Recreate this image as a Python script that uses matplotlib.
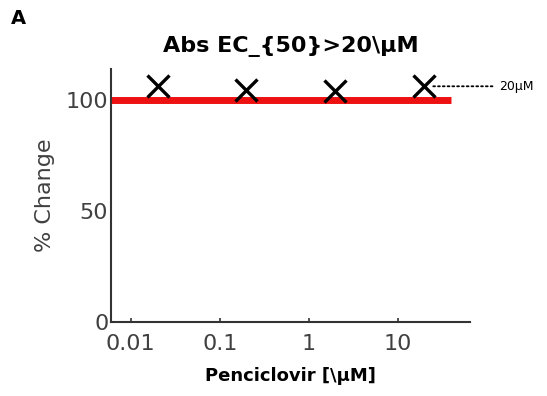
import matplotlib
matplotlib.use('Agg')
import matplotlib.pyplot as plt

conc = [0.02, 0.2, 2, 20]
pct_change = [106, 104.5, 104, 106]
line_x = [0.006, 40]
line_y = [100, 100]
xticks = [0.01, 0.1, 1, 10]
xticklabels = ['0.01', '0.1', '1', '10']
yticks = [0, 50, 100]

fig = plt.figure(figsize=(5.47, 3.96), dpi=100)
ax = fig.add_axes([0.203, 0.187, 0.657, 0.64])

ax.plot(line_x, line_y, color='#ee1111', lw=5, solid_capstyle='butt', zorder=2)
ax.plot(conc, pct_change, 'x', color='black', ms=16, mew=2.4, zorder=3)

ax.set_xscale('log')
ax.set_xlim(0.006, 66)
ax.set_ylim(0, 114)
ax.set_xticks(xticks)
ax.set_xticklabels(xticklabels)
ax.minorticks_off()
ax.set_yticks(yticks)
for s in ['top', 'right']:
    ax.spines[s].set_visible(False)
for s in ['left', 'bottom']:
    ax.spines[s].set_color('#333333')
    ax.spines[s].set_linewidth(1.5)
ax.tick_params(direction='in', length=3, width=1.2, colors='#333333',
               labelsize=16, labelcolor='#404040')
ax.tick_params(axis='x', pad=9)
ax.tick_params(axis='y', length=0, pad=2)

ax.set_ylabel('% Change', fontsize=16, color='#404040', labelpad=8)
ax.set_xlabel('Penciclovir [\\µM]', fontsize=13, fontweight='bold', labelpad=9)
ax.set_title('Abs EC_{50}>20\\µM', fontsize=16, fontweight='bold', pad=12)

# dotted pointer to the 20 uM label
ax.annotate('20µM', xy=(conc[-1] * 1.2, pct_change[-1]), xytext=(0.913, pct_change[-1]),
            textcoords=('figure fraction', 'data'), fontsize=9, va='center', ha='left',
            arrowprops=dict(arrowstyle='-', ls=':', lw=1.3, color='black',
                            shrinkA=3, shrinkB=0),
            annotation_clip=False)

fig.text(0.02, 0.94, 'A', fontsize=14, fontweight='bold')

fig.savefig('out.png', dpi=100)
